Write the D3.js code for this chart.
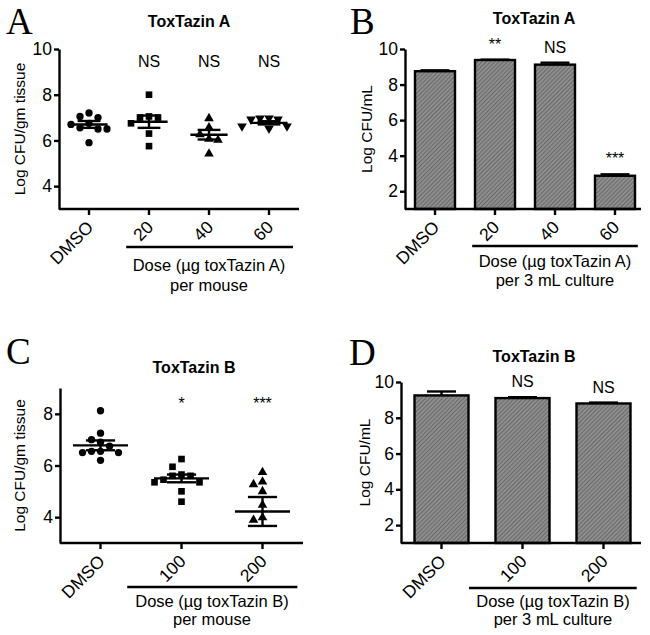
<!DOCTYPE html>
<html><head><meta charset="utf-8">
<script src="https://cdn.jsdelivr.net/npm/d3@7"></script>
<style>
body{margin:0;background:#fff}
text{font-family:"Liberation Sans",Arial,sans-serif;fill:#000}
</style>
</head><body>
<svg id="c" width="650" height="635" xmlns="http://www.w3.org/2000/svg"></svg>
<script>
// ---------- DATA ----------
// Panel A: in vivo, ToxTazin A (scatter)
const catsA = ["DMSO", "20", "40", "60"];
const ptsA_DMSO = [7.2, 7.05, 7.0, 6.75, 6.7, 6.55, 6.5, 6.5, 5.9];
const ptsA_20 = [8.0, 7.05, 7.0, 7.0, 6.75, 6.3, 5.75];
const ptsA_40 = [7.0, 6.6, 6.3, 6.1, 6.05, 5.45];
const ptsA_60 = [6.95, 6.95, 6.9, 6.9, 6.6, 6.6, 6.5];
const meanA = [6.7, 6.82, 6.25, 6.77];
const semA = [0.15, 0.27, 0.21, 0.07];
const sigA = ["", "NS", "NS", "NS"];
const yTicksA = [4, 6, 8, 10];

// Panel B: in vitro, ToxTazin A (bars)
const catsB = ["DMSO", "20", "40", "60"];
const valsB = [8.75, 9.38, 9.12, 2.87];
const errB = [0.05, 0.02, 0.11, 0.08];
const sigB = ["", "**", "NS", "***"];
const yTicksB = [2, 4, 6, 8, 10];

// Panel C: in vivo, ToxTazin B (scatter)
const catsC = ["DMSO", "100", "200"];
const ptsC_DMSO = [8.12, 7.25, 7.0, 6.9, 6.75, 6.55, 6.55, 6.5, 6.5, 6.2];
const ptsC_100 = [6.25, 5.95, 5.65, 5.6, 5.6, 5.45, 5.35, 5.35, 5.0, 4.6];
const ptsC_200 = [5.77, 5.4, 5.3, 5.03, 4.5, 4.02, 3.92];
const meanC = [6.78, 5.5, 4.22];
const semC = [0.19, 0.15, 0.56];
const sigC = ["", "*", "***"];
const yTicksC = [4, 6, 8];

// Panel D: in vitro, ToxTazin B (bars)
const catsD = ["DMSO", "100", "200"];
const valsD = [9.25, 9.1, 8.8];
const errD = [0.22, 0.05, 0.05];
const sigD = ["", "NS", "NS"];
const yTicksD = [2, 4, 6, 8, 10];

// ---------- DRAWING ----------
const svg = d3.select("#c");
svg.append("rect").attr("width", 650).attr("height", 635).attr("fill", "#fff");

const defs = svg.append("defs");
const pat = defs.append("pattern").attr("id", "hatch")
  .attr("patternUnits", "userSpaceOnUse").attr("width", 3).attr("height", 3)
  .attr("patternTransform", "rotate(45)");
pat.append("rect").attr("width", 3).attr("height", 3).attr("fill", "#8e8e8e");
pat.append("line").attr("x1", 0).attr("y1", 0).attr("x2", 0).attr("y2", 3)
  .attr("stroke", "#505050").attr("stroke-width", 1.2);

const AXW = 2.4;

function styleAxis(ax) {
  ax.select(".domain").attr("stroke", "#000").attr("stroke-width", AXW);
  ax.selectAll(".tick line").attr("stroke", "#000").attr("stroke-width", AXW);
  ax.selectAll("text").attr("font-size", 17.5).attr("font-family", '"Liberation Sans",Arial,sans-serif');
}

function frame(o) {
  const g = svg.append("g");
  const x = d3.scaleBand().domain(o.cats).range([o.x0, o.x1]).padding(0);
  const y = d3.scaleLinear().domain(o.yDom).range([o.yB, o.yT]);
  const ya = g.append("g").attr("transform", `translate(${o.x0},0)`)
    .call(d3.axisLeft(y).tickValues(o.yTicks).tickFormat(d3.format("d")).tickSize(5).tickSizeOuter(0).tickPadding(2));
  styleAxis(ya);
  const xa = g.append("g").attr("transform", `translate(0,${o.yB})`)
    .call(d3.axisBottom(x).tickSize(6).tickSizeOuter(0));
  styleAxis(xa);
  xa.select(".domain").attr("d", `M${o.x0},0H${o.axEnd}`);
  xa.selectAll(".tick text")
    .attr("text-anchor", "end")
    .attr("x", 0).attr("y", 0).attr("dy", "0.35em")
    .attr("transform", "translate(1,15) rotate(-45)");
  // panel letter
  g.append("text").attr("x", o.letterX).attr("y", o.letterY).text(o.letter)
    .style("font-family", '"Liberation Serif","Times New Roman",serif').attr("font-size", 37);
  // title
  g.append("text").attr("x", o.titleX).attr("y", o.titleY).attr("text-anchor", "middle")
    .attr("font-size", 16).attr("font-weight", "bold").text(o.title);
  // y label
  g.append("text").attr("transform", `translate(${o.ylabX},${(o.yT + o.yB) / 2}) rotate(-90)`)
    .attr("text-anchor", "middle").attr("font-size", 15.5).text(o.ylab);
  // dose bracket
  const c1 = x(o.cats[1]) + x.bandwidth() / 2;
  const cN = x(o.cats[o.cats.length - 1]) + x.bandwidth() / 2;
  const xl = c1 - x.bandwidth() * o.brL;
  const xr = cN + x.bandwidth() * o.brR;
  g.append("line").attr("x1", xl).attr("x2", xr).attr("y1", o.brY).attr("y2", o.brY)
    .attr("stroke", "#000").attr("stroke-width", AXW);
  g.append("text").attr("x", o.doseX).attr("y", o.doseY1).attr("text-anchor", "middle")
    .attr("font-size", 16.5).text(o.dose1);
  g.append("text").attr("x", o.doseX).attr("y", o.doseY2).attr("text-anchor", "middle")
    .attr("font-size", 16.5).text(o.dose2);
  return {g, x, y};
}

function swarm(vals, y, d) {
  const items = vals.map(v => ({v, py: y(v)})).sort((a, b) => a.py - b.py);
  const placed = [];
  items.forEach(p => {
    for (let k = 0; k < 40; k++) {
      const off = k === 0 ? 0 : (k % 2 ? -1 : 1) * Math.ceil(k / 2) * d;
      const ok = placed.every(q => Math.hypot(q.dx - off, q.py - p.py) >= d * 0.98);
      if (ok) { p.dx = off; placed.push(p); break; }
    }
  });
  return placed;
}

function scatterPanel(o, groups, means, sems, sig, shapes) {
  const {g, x, y} = frame(o);
  const bw = x.bandwidth();
  groups.forEach((vals, i) => {
    const cx = x(o.cats[i]) + bw / 2;
    const pts = swarm(vals, y, o.spread);
    const sh = shapes[i];
    g.selectAll(null).data(pts).enter().append("path")
      .attr("d", d3.symbol().type(sh.type).size(sh.size))
      .attr("transform", d => `translate(${cx + d.dx},${d.py + (sh.rot ? -0.5 : (sh.type === d3.symbolTriangle ? 0.8 : 0))})${sh.rot ? " rotate(180)" : ""}`)
      .attr("fill", "#000");
    const m = means[i], s = sems[i];
    const ml = bw * o.meanW / 2, cl = bw * o.capW / 2;
    g.append("line").attr("x1", cx - ml).attr("x2", cx + ml).attr("y1", y(m)).attr("y2", y(m))
      .attr("stroke", "#000").attr("stroke-width", 2.4);
    g.append("line").attr("x1", cx).attr("x2", cx).attr("y1", y(m - s)).attr("y2", y(m + s))
      .attr("stroke", "#000").attr("stroke-width", 2.4);
    [m - s, m + s].forEach(v => g.append("line").attr("x1", cx - cl).attr("x2", cx + cl)
      .attr("y1", y(v)).attr("y2", y(v)).attr("stroke", "#000").attr("stroke-width", 2.4));
    if (sig[i]) g.append("text").attr("x", cx).attr("y", o.sigY).attr("text-anchor", "middle")
      .attr("font-size", 16).text(sig[i]);
  });
}

function barPanel(o, vals, errs, sig) {
  const {g, x, y} = frame(o);
  const bw = x.bandwidth(), w = bw * 2 / 3;
  vals.forEach((v, i) => {
    const cx = x(o.cats[i]) + bw / 2;
    const top = y(v), et = y(v + errs[i]);
    g.append("line").attr("x1", cx).attr("x2", cx).attr("y1", top).attr("y2", et)
      .attr("stroke", "#000").attr("stroke-width", 2.4);
    g.append("line").attr("x1", cx - 14.5).attr("x2", cx + 14.5).attr("y1", et).attr("y2", et)
      .attr("stroke", "#000").attr("stroke-width", 2.4);
    g.append("rect").attr("x", cx - w / 2).attr("y", top).attr("width", w).attr("height", y(o.yDom[0]) - top)
      .attr("fill", "url(#hatch)").attr("stroke", "#000").attr("stroke-width", 2.4);
    if (sig[i]) g.append("text").attr("x", cx).attr("y", et - 10).attr("text-anchor", "middle")
      .attr("font-size", 16).text(sig[i]);
  });
  g.selectAll("g").raise();
}

const triUp = {type: d3.symbolTriangle, size: 40};
const triDown = {type: d3.symbolTriangle, size: 40, rot: true};
const circ = {type: d3.symbolCircle, size: 42};
const sq = {type: d3.symbolSquare, size: 44};

scatterPanel({
  cats: catsA, x0: 59, x1: 299, axEnd: 299, yDom: [3, 10], yB: 209, yT: 49, yTicks: yTicksA,
  letter: "A", letterX: 6, letterY: 34, title: "ToxTazin A", titleX: 189, titleY: 27,
  ylab: "Log CFU/gm tissue", ylabX: 25, brL: 0.38, brR: 0.4, brY: 247,
  dose1: "Dose (\u00b5g toxTazin A)", dose2: "per mouse", doseX: 209, doseY1: 271, doseY2: 291,
  spread: 9, meanW: 0.62, capW: 0.38, sigY: 67
}, [ptsA_DMSO, ptsA_20, ptsA_40, ptsA_60], meanA, semA, sigA, [circ, sq, triUp, triDown]);

barPanel({
  cats: catsB, x0: 405, x1: 645, axEnd: 641, yDom: [1, 10], yB: 209, yT: 49, yTicks: yTicksB,
  letter: "B", letterX: 350, letterY: 34, title: "ToxTazin A", titleX: 534, titleY: 24,
  ylab: "Log CFU/mL", ylabX: 372, brL: 0.38, brR: 0.38, brY: 246,
  dose1: "Dose (\u00b5g toxTazin A)", dose2: "per 3 mL culture", doseX: 555, doseY1: 267, doseY2: 286
}, valsB, errB, sigB);

scatterPanel({
  cats: catsC, x0: 60, x1: 303, axEnd: 303, yDom: [3, 9], yB: 543, yT: 388, yTicks: yTicksC,
  letter: "C", letterX: 6, letterY: 364, title: "ToxTazin B", titleX: 194, titleY: 373,
  ylab: "Log CFU/gm tissue", ylabX: 25, brL: 0.67, brR: 0.43, brY: 587,
  dose1: "Dose (\u00b5g toxTazin B)", dose2: "per mouse", doseX: 212, doseY1: 607, doseY2: 625,
  spread: 9, meanW: 0.68, capW: 0.36, sigY: 409
}, [ptsC_DMSO, ptsC_100, ptsC_200], meanC, semC, sigC, [circ, sq, triUp]);

barPanel({
  cats: catsD, x0: 401, x1: 644, axEnd: 641, yDom: [1, 10], yB: 543, yT: 382, yTicks: yTicksD,
  letter: "D", letterX: 349, letterY: 365, title: "ToxTazin B", titleX: 534, titleY: 362,
  ylab: "Log CFU/mL", ylabX: 370, brL: 0.66, brR: 0.41, brY: 588,
  dose1: "Dose (\u00b5g toxTazin B)", dose2: "per 3 mL culture", doseX: 553, doseY1: 607, doseY2: 625
}, valsD, errD, sigD);
</script>
</body></html>
